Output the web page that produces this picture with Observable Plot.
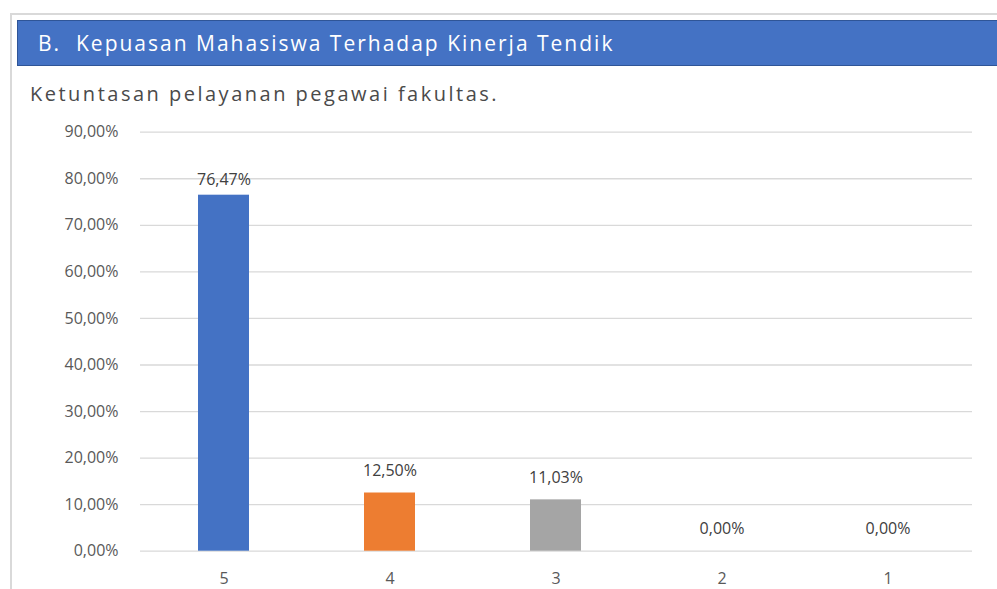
<!DOCTYPE html>
<html><head><meta charset="utf-8">
<script src="https://cdn.jsdelivr.net/npm/d3@7"></script>
<script src="https://cdn.jsdelivr.net/npm/@observablehq/plot@0.6"></script>
<style>
html,body{margin:0;padding:0;background:#fff;}
#wrap{position:relative;width:997px;height:589px;overflow:hidden;font-family:"Open Sans",sans-serif;}
#frame{position:absolute;left:10px;top:13px;width:1000px;height:600px;border-left:2px solid #d9d9d9;border-top:2px solid #d9d9d9;}
#header{position:absolute;left:17px;top:20px;width:985px;height:46px;background:#4472C4;border:1px solid #2f5597;box-sizing:border-box;color:#fff;font-size:21px;letter-spacing:2px;line-height:44px;padding-left:20px;white-space:pre;}
#sub{position:absolute;left:30px;top:80px;font-size:20px;letter-spacing:2.5px;line-height:28px;color:#4a4a4a;}
#chart{position:absolute;left:0;top:115px;}
</style></head><body>
<div id="wrap">
  <div id="frame"></div>
  <div id="header"></div>
  <div id="sub"></div>
  <div id="chart"></div>
</div>
<script>
const title = "B.  Kepuasan Mahasiswa Terhadap Kinerja Tendik";
const subtitle = "Ketuntasan pelayanan pegawai fakultas.";
const categories = ["5", "4", "3", "2", "1"];
const values = [76.47, 12.50, 11.03, 0.00, 0.00];
const yTicks = [0, 10, 20, 30, 40, 50, 60, 70, 80, 90];
const palette = ["#4472C4", "#ED7D31", "#A5A5A5", "#FFC000", "#5B9BD5"];

document.getElementById("header").textContent = title;
document.getElementById("sub").textContent = subtitle;

const data = categories.map((c, i) => ({cat: c, val: values[i]}));
const fmt = v => v.toFixed(2).replace(".", ",") + "%";

const chart = Plot.plot({
  width: 997,
  height: 474,
  marginLeft: 140,
  marginRight: 25,
  marginTop: 16.7,
  marginBottom: 38.3,
  style: {fontFamily: "'Open Sans', sans-serif", background: "transparent", overflow: "visible"},
  x: {domain: categories, paddingInner: 0.69, paddingOuter: 0.345, label: null},
  y: {domain: [0, 90], label: null},
  color: {domain: categories, range: palette},
  marks: [
    Plot.ruleY(yTicks, {stroke: "#d9d9d9", strokeWidth: 1.3}),
    Plot.barY(data, {x: "cat", y: "val", fill: "cat"}),
    Plot.text(data, {filter: d => d.val > 50, x: "cat", y: "val", text: d => fmt(d.val), dy: -15, fontSize: 16, letterSpacing: 0.5, fill: "#404040"}),
    Plot.text(data, {filter: d => d.val <= 50, x: "cat", y: "val", text: d => fmt(d.val), dy: -22, fontSize: 16, letterSpacing: 0.5, fill: "#404040"}),
    Plot.axisY({ticks: yTicks, tickFormat: fmt, tickSize: 0, tickPadding: 22, fontSize: 16, fill: "#595959", label: null}),
    Plot.axisX({tickSize: 0, tickPadding: 21, fontSize: 16, fill: "#595959", label: null})
  ]
});
document.getElementById("chart").appendChild(chart);
</script>
</body></html>
